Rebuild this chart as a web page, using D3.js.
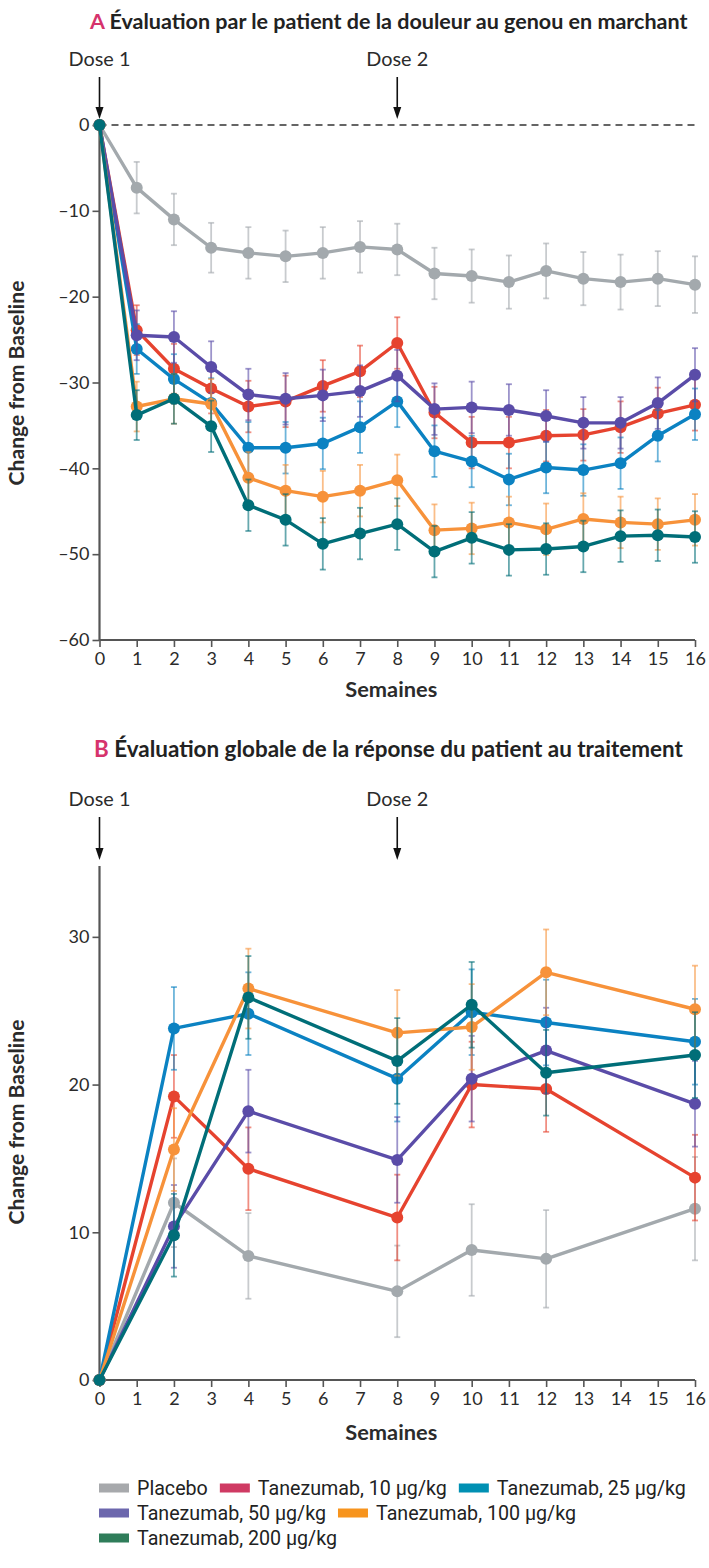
<!DOCTYPE html>
<html>
<head>
<meta charset="utf-8">
<script src="https://cdn.jsdelivr.net/npm/d3@7"></script>
<style>
  html, body { margin: 0; padding: 0; background: #fff; }
  svg { display: block; }
</style>
</head>
<body>
<svg id="chart" width="709" height="1568"></svg>
<script>
// ---- Panel A: weekly pain scores (change from baseline) ----
const weeksA = [0,1,2,3,4,5,6,7,8,9,10,11,12,13,14,15,16];
const placeboA = [0,-7.3,-11.0,-14.3,-14.9,-15.3,-14.9,-14.2,-14.5,-17.3,-17.6,-18.3,-17.0,-17.9,-18.3,-17.9,-18.6];
const tz10A  = [0,-23.9,-28.4,-30.7,-32.8,-32.2,-30.4,-28.7,-25.4,-33.5,-37.0,-37.0,-36.2,-36.1,-35.2,-33.6,-32.6];
const tz25A  = [0,-26.1,-29.6,-32.4,-37.6,-37.6,-37.1,-35.2,-32.2,-38.0,-39.2,-41.3,-39.9,-40.2,-39.4,-36.2,-33.7];
const tz50A  = [0,-24.5,-24.7,-28.2,-31.4,-31.9,-31.5,-31.0,-29.2,-33.1,-32.9,-33.2,-33.9,-34.7,-34.7,-32.4,-29.1];
const tz100A = [0,-32.8,-31.9,-32.5,-41.1,-42.6,-43.3,-42.6,-41.4,-47.2,-47.0,-46.3,-47.1,-45.9,-46.3,-46.5,-46.0];
const tz200A = [0,-33.8,-31.9,-35.1,-44.3,-46.0,-48.8,-47.6,-46.5,-49.7,-48.1,-49.5,-49.4,-49.1,-47.9,-47.8,-48.0];
// standard errors
const placeboErrA = [0,3.0,3.0,2.9,3.0,3.0,3.0,3.0,3.0,3.0,3.1,3.1,3.2,3.1,3.2,3.2,3.3];
const tz10ErrA  = [0,2.9,2.9,2.9,3.0,3.0,3.0,3.0,3.0,3.0,3.0,3.0,3.0,3.0,3.0,3.0,3.0];
const tz25ErrA  = [0,2.9,2.9,2.9,3.0,3.0,3.0,3.0,3.0,3.0,3.0,3.0,3.0,3.0,3.0,3.0,3.0];
const tz50ErrA  = [0,2.9,3.0,3.0,3.0,3.0,3.0,3.0,3.0,3.0,3.0,3.0,3.0,3.0,3.0,3.0,3.1];
const tz100ErrA = [0,2.9,2.9,2.9,3.0,3.0,3.0,3.0,3.0,3.0,3.0,3.0,3.0,3.0,3.0,3.0,3.0];
const tz200ErrA = [0,2.9,2.9,3.0,3.0,3.0,3.0,3.0,3.0,3.0,3.0,3.0,3.0,3.0,3.0,3.0,3.0];
const yTicksA = [0,-10,-20,-30,-40,-50,-60];

// ---- Panel B: global response to treatment ----
const weeksB = [0,2,4,8,10,12,16];
const placeboB = [0,12.0,8.4,6.0,8.8,8.2,11.6];
const tz10B  = [0,19.2,14.3,11.0,20.0,19.7,13.7];
const tz25B  = [0,23.8,24.8,20.4,24.9,24.2,22.9];
const tz50B  = [0,10.4,18.2,14.9,20.4,22.3,18.7];
const tz100B = [0,15.6,26.5,23.5,23.9,27.6,25.1];
const tz200B = [0,9.8,25.9,21.6,25.4,20.8,22.0];
const placeboErrB = [0,3.0,2.9,3.1,3.1,3.3,3.5];
const tz10ErrB  = [0,2.8,2.8,2.9,2.9,2.9,2.9];
const tz25ErrB  = [0,2.8,2.8,2.9,2.9,2.9,2.9];
const tz50ErrB  = [0,2.8,2.8,2.9,2.9,2.9,2.9];
const tz100ErrB = [0,2.8,2.7,2.9,2.9,2.9,2.95];
const tz200ErrB = [0,2.8,2.8,2.9,2.9,2.9,2.9];
const yTicksB = [0,10,20,30];

const xTicks = [0,1,2,3,4,5,6,7,8,9,10,11,12,13,14,15,16];

const seriesNames = ["Placebo","Tanezumab, 10 µg/kg","Tanezumab, 25 µg/kg","Tanezumab, 50 µg/kg","Tanezumab, 100 µg/kg","Tanezumab, 200 µg/kg"];
const lineColors  = ["#a3a9ad","#e6432f","#0b82c2","#5a4ca8","#f7923a","#006e78"];
const legendColors = ["#a7a9ac","#cf3a63","#0090b3","#6c67ad","#f7941d","#2f7d5a"];

const svg = d3.select("#chart");
const INK = "#2b2b2b";
const tickFont = "Lato,'Open Sans',sans-serif";
const labelFont = "Lato,'Open Sans',sans-serif";

// scale a text's font size so that it spans the given width
function fit(sel, width) {
  const fs = parseFloat(sel.attr("font-size"));
  const len = sel.node().getComputedTextLength();
  sel.attr("font-size", (fs * width / len).toFixed(2));
  return sel;
}

function panel(cfg) {
  const g = svg.append("g");
  const x = d3.scaleLinear().domain([0,16]).range([99.5,695]);
  const y = d3.scaleLinear().domain(cfg.yDomain).range(cfg.yRange);

  // title
  const t = g.append("text").attr("x", cfg.titleX).attr("y", cfg.titleY)
    .attr("font-family", labelFont).attr("font-weight", 700).attr("font-size", 16.5).attr("fill", "#222");
  t.append("tspan").attr("fill", "#d6336c").text(cfg.letter);
  t.append("tspan").text(" " + cfg.title);
  fit(t, cfg.titleW);

  // dose markers
  [[0,"Dose 1"],[8,"Dose 2"]].forEach(([w, lab]) => {
    const dt = g.append("text").attr("x", x(w)).attr("y", cfg.doseY).attr("text-anchor","middle")
      .attr("font-family", tickFont).attr("font-size", 18).attr("fill", INK).text(lab);
    fit(dt, 62);
    g.append("line").attr("x1", x(w)).attr("x2", x(w))
      .attr("y1", cfg.doseY + 11).attr("y2", cfg.arrowEnd - 8)
      .attr("stroke", "#111").attr("stroke-width", 1.6);
    g.append("path")
      .attr("d", `M${x(w)-4},${cfg.arrowEnd-12} L${x(w)+4},${cfg.arrowEnd-12} L${x(w)},${cfg.arrowEnd} Z`)
      .attr("fill", "#111");
  });

  // y axis
  const yAxis = d3.axisLeft(y).tickValues(cfg.yTicks).tickSize(7).tickPadding(3)
    .tickFormat(d => d < 0 ? "–" + Math.abs(d) : String(d));
  const ya = g.append("g").attr("transform", `translate(${x(0)},0)`).call(yAxis);
  ya.select(".domain").attr("stroke", "#555").attr("stroke-width", 2.2)
    .attr("d", `M0,${cfg.yAxisTop}V${y(cfg.xAxisAt)}`);
  ya.selectAll(".tick line").attr("stroke", "#555").attr("stroke-width", 1.6);
  ya.selectAll(".tick text").attr("font-family", tickFont).attr("font-size", 18).attr("fill", INK);

  // x axis
  const xAxis = d3.axisBottom(x).tickValues(xTicks).tickSize(7).tickPadding(5).tickFormat(d3.format("d"));
  const xa = g.append("g").attr("transform", `translate(0,${y(cfg.xAxisAt)})`).call(xAxis);
  xa.select(".domain").attr("stroke", "#555").attr("stroke-width", 2.2).attr("d", `M${x(0)},0H${x(16)}`);
  xa.selectAll(".tick line").attr("stroke", "#555").attr("stroke-width", 1.6);
  xa.selectAll(".tick text").attr("font-family", tickFont).attr("font-size", 18).attr("fill", INK);

  const st = g.append("text").attr("x", x(8) - 6).attr("y", cfg.xTitleY).attr("text-anchor","middle")
    .attr("font-family", labelFont).attr("font-weight", 700).attr("font-size", 16).attr("fill", INK)
    .text("Semaines");
  fit(st, 92);
  const yt = g.append("text").attr("transform", `translate(${cfg.yTitleX},${cfg.yTitleY}) rotate(-90)`)
    .attr("text-anchor","middle").attr("font-family", labelFont).attr("font-weight", 700)
    .attr("font-size", 16.5).attr("fill", INK).text("Change from Baseline");
  fit(yt, 205);

  if (cfg.zeroLine) {
    g.append("line").attr("x1", x(0)).attr("x2", x(16)).attr("y1", y(0)).attr("y2", y(0))
      .attr("stroke", "#333").attr("stroke-width", 1.6).attr("stroke-dasharray", "7,5");
  }

  // series: error bars, lines, markers
  const line = d3.line().x(d => x(d.w)).y(d => y(d.v));
  cfg.series.forEach((s, i) => {
    const pts = cfg.weeks.map((w, j) => ({ w, v: s.values[j], e: s.errs[j] }));
    const sg = g.append("g");
    const eb = sg.append("g").attr("stroke", lineColors[i]).attr("stroke-opacity", 0.6).attr("stroke-width", 1.8);
    pts.filter(p => p.e > 0).forEach(p => {
      const cx = x(p.w), y1 = y(p.v + p.e), y2 = y(p.v - p.e);
      eb.append("line").attr("x1", cx).attr("x2", cx).attr("y1", y1).attr("y2", y2);
      eb.append("line").attr("x1", cx-3).attr("x2", cx+3).attr("y1", y1).attr("y2", y1);
      eb.append("line").attr("x1", cx-3).attr("x2", cx+3).attr("y1", y2).attr("y2", y2);
    });
    sg.append("path").attr("d", line(pts)).attr("fill", "none").attr("stroke", lineColors[i])
      .attr("stroke-width", 3.4).attr("stroke-linejoin", "round");
    sg.selectAll("circle").data(pts).join("circle")
      .attr("cx", d => x(d.w)).attr("cy", d => y(d.v)).attr("r", 6).attr("fill", lineColors[i]);
  });
}

panel({
  letter: "A", title: "Évaluation par le patient de la douleur au genou en marchant",
  titleX: 90, titleY: 29, titleW: 598, doseY: 66, arrowEnd: 119,
  yDomain: [-60, 0], yRange: [640, 125], yTicks: yTicksA, yAxisTop: 125, xAxisAt: -60,
  xTitleY: 697, yTitleX: 24, yTitleY: 383, zeroLine: true,
  weeks: weeksA,
  series: [
    { values: placeboA, errs: placeboErrA },
    { values: tz10A, errs: tz10ErrA },
    { values: tz25A, errs: tz25ErrA },
    { values: tz50A, errs: tz50ErrA },
    { values: tz100A, errs: tz100ErrA },
    { values: tz200A, errs: tz200ErrA }
  ]
});

panel({
  letter: "B", title: "Évaluation globale de la réponse du patient au traitement",
  titleX: 94, titleY: 757, titleW: 589, doseY: 806, arrowEnd: 860,
  yDomain: [0, 35], yRange: [1380, 863], yTicks: yTicksB, yAxisTop: 866, xAxisAt: 0,
  xTitleY: 1440, yTitleX: 24, yTitleY: 1122, zeroLine: false,
  weeks: weeksB,
  series: [
    { values: placeboB, errs: placeboErrB },
    { values: tz10B, errs: tz10ErrB },
    { values: tz25B, errs: tz25ErrB },
    { values: tz50B, errs: tz50ErrB },
    { values: tz100B, errs: tz100ErrB },
    { values: tz200B, errs: tz200ErrB }
  ]
});

// legend: three rows of colour swatches with labels
const legendRows = [[0,1,2],[3,4],[5]];
const legend = svg.append("g");
// size the legend font so a reference label spans its intended width
const probe = legend.append("text").attr("font-family", "Roboto,Lato,sans-serif")
  .attr("font-size", 18).text(seriesNames[1]);
fit(probe, 189);
const legendFs = probe.attr("font-size");
probe.remove();
legendRows.forEach((row, r) => {
  let cx = 99;
  const cy = 1488 + r * 25;
  row.forEach(i => {
    legend.append("rect").attr("x", cx).attr("y", cy - 4.5).attr("width", 30).attr("height", 9)
      .attr("fill", legendColors[i]);
    const tx = legend.append("text").attr("x", cx + 38).attr("y", cy + 6.5)
      .attr("font-family", "Roboto,Lato,sans-serif").attr("font-size", legendFs).attr("fill", "#222")
      .text(seriesNames[i]);
    cx += 38 + tx.node().getComputedTextLength() + 12;
  });
});
</script>
</body>
</html>
